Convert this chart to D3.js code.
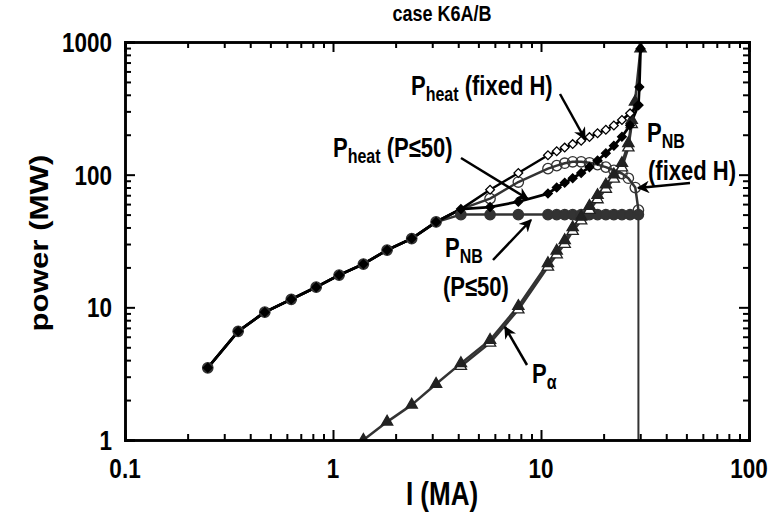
<!DOCTYPE html>
<html>
<head>
<meta charset="utf-8">
<script src="https://cdn.jsdelivr.net/npm/d3@7"></script>
<style>
  body { margin: 0; background: #fff; }
  text { font-family: "Liberation Sans", Arial, sans-serif; font-weight: bold; fill: #000; }
</style>
</head>
<body>
<div id="myChart"></div>
<script>
// data (I in MA, P in MW)
const I_low = [0.25, 0.35, 0.47, 0.63, 0.83, 1.07, 1.4, 1.82, 2.39, 3.13, 4.12];
const P_low = [3.5, 6.6, 9.2, 11.5, 14.2, 17.5, 21.2, 27, 33, 44, 55];
const I_mid = [5.69, 7.78];
const I_dense = [10.8, 11.9, 13.0, 14.2, 15.6, 17.1, 18.7, 20.5, 22.4, 24.5, 26.8, 29.4];

const heatFixedH = [77, 103, 140, 150, 160, 170, 180, 192, 205, 218, 235, 258, 290, 335];
const heatP50 = [57, 62.5, 72, 80, 87, 94, 103, 114, 128, 145, 165, 193, 236, 334];
const heatP50_endI = [29.7, 30.1];
const heatP50_end = [457, 890];
const nbFixedH_I = [5.69, 7.78, 10.8, 11.9, 13.0, 14.2, 15.6, 17.1, 18.7, 20.5, 22.4, 24.5, 26.3, 28.4, 29.4];
const nbFixedH_P = [66, 88, 111, 117, 122, 125, 125, 123, 119, 114, 108, 102, 94, 80, 54];
const nbP50 = [50, 50, 50, 50, 50, 50, 50, 50, 50, 50, 50, 50, 50, 50, 50];

const alpha_I = [1.07, 1.4, 1.82, 2.39, 3.13, 4.12, 5.69, 7.78, 10.8, 11.9, 13.0, 14.2, 15.6, 17.1, 18.7, 20.5, 22.4, 24.5, 26.3, 27.3, 28.3, 30.1];
const alpha_P = [0.75, 1.0, 1.37, 1.84, 2.64, 3.78, 5.67, 10.2, 21.5, 26.7, 32, 40, 48, 58, 70, 84, 100, 122, 172, 258, 354, 890];
const alphaH_I = [4.12, 5.69, 7.78, 10.8, 11.9, 13.0, 14.2, 15.6, 17.1, 18.7, 20.5, 22.4, 24.5, 26.3, 27.3];
const alphaH_P = [3.6, 5.4, 9.6, 20.2, 25, 30, 37.5, 45, 54, 65, 78, 93, 113, 160, 240];

const xTickLabels = ["0.1", "1", "10", "100"];
const yTickLabels = ["1", "10", "100", "1000"];

// set the dimensions and margins of the graph
const margin = { top: 42, right: 27, bottom: 77, left: 125 };
const width = 776 - margin.left - margin.right;
const height = 517 - margin.top - margin.bottom;
const K = 1.25; // the lettering in the figure is stretched vertically

const root = d3.select("#myChart")
  .append("svg")
  .attr("width", 776)
  .attr("height", 517);
const svg = root.append("g")
  .attr("transform", `translate(${margin.left}, ${margin.top})`);

const x = d3.scaleLog().domain([0.1, 100]).range([0, width]);
const y = d3.scaleLog().domain([1, 1000]).range([height, 0]);

svg.append("clipPath").attr("id", "plotClip")
  .append("rect").attr("width", width).attr("height", height);

// build point lists
function pts(xs, ys) { return xs.map((v, i) => ({ I: v, P: ys[i] })); }
const gridI = I_low.concat(I_mid, I_dense);
const sHeatH = pts(gridI, P_low.concat(heatFixedH));
const sHeat50 = pts(gridI.concat(heatP50_endI), P_low.concat(heatP50, heatP50_end));
const sNbH = pts(I_low.concat(nbFixedH_I), P_low.concat(nbFixedH_P));
const sNb50 = pts(I_low.slice(0, -1).concat([4.12], I_mid, I_dense), P_low.slice(0, -1).concat(nbP50));
const sAlpha = pts(alpha_I, alpha_P);
const sAlphaH = pts(alphaH_I, alphaH_P);

const line = d3.line().x(d => x(d.I)).y(d => y(d.P));
const plot = svg.append("g").attr("clip-path", "url(#plotClip)");

// vertical drop of the NB curves at the end
plot.append("path")
  .datum([{ I: 29.4, P: 54 }, { I: 29.4, P: 0.5 }])
  .attr("d", line).attr("fill", "none").attr("stroke", "#333").attr("stroke-width", 2);

const grey = "#333";
const lines = [
  { data: sAlphaH, color: grey, w: 2.5 },
  { data: sAlpha, color: grey, w: 2.5 },
  { data: sNb50, color: grey, w: 2.5 },
  { data: sNbH, color: grey, w: 2.5 },
  { data: sHeatH, color: "#000", w: 2.5 },
  { data: sHeat50, color: "#000", w: 2.8 }
];
lines.forEach(s => {
  plot.append("path").datum(s.data).attr("d", line)
    .attr("fill", "none").attr("stroke", s.color).attr("stroke-width", s.w)
    .attr("stroke-linejoin", "round");
});

// markers
function markers(data, type, size, fill, stroke, rot) {
  plot.append("g").selectAll("path").data(data).join("path")
    .attr("d", d3.symbol().type(type).size(size))
    .attr("transform", d => `translate(${x(d.I)},${y(d.P)}) rotate(${rot})`)
    .attr("fill", fill).attr("stroke", stroke).attr("stroke-width", 1.3);
}
markers(sNb50, d3.symbolCircle, 85, "#333", "#333", 0);
markers(sNbH.slice(I_low.length), d3.symbolCircle, 85, "none", "#333", 0);
markers(sAlphaH, d3.symbolTriangle, 55, "#fff", "#222", 0);
markers(sAlpha, d3.symbolTriangle, 55, "#222", "#222", 0);
markers(sHeatH.slice(I_low.length), d3.symbolSquare, 38, "#fff", "#000", 45);
markers(sHeat50, d3.symbolSquare, 38, "#000", "#000", 45);

// axes: inward ticks on all four sides
const xMajor = [0.1, 1, 10, 100];
const yMajor = [1, 10, 100, 1000];
const xMinor = x.ticks().filter(v => xMajor.indexOf(v) < 0);
const yMinor = y.ticks().filter(v => yMajor.indexOf(v) < 0);

function axisPair(axisFn, scale, major, minor, transform) {
  const g1 = svg.append("g").attr("transform", transform)
    .call(axisFn(scale).tickValues(major).tickSize(-10).tickFormat(""));
  const g2 = svg.append("g").attr("transform", transform)
    .call(axisFn(scale).tickValues(minor).tickSize(-6).tickFormat(""));
  [g1, g2].forEach(g => {
    g.selectAll("line").attr("stroke", "#000").attr("stroke-width", 2);
    g.select(".domain").attr("stroke", "#000").attr("stroke-width", 2.5);
  });
}
axisPair(d3.axisBottom, x, xMajor, xMinor, `translate(0,${height})`);
axisPair(d3.axisTop, x, xMajor, xMinor, "translate(0,0)");
axisPair(d3.axisLeft, y, yMajor, yMinor, "translate(0,0)");
axisPair(d3.axisRight, y, yMajor, yMinor, `translate(${width},0)`);

// text helper, page pixel coordinates, stretched vertically
function txt(px, py, size, anchor, extra) {
  return root.append("text")
    .attr("transform", `translate(${px},${py}) scale(1,${K})` + (extra || ""))
    .attr("text-anchor", anchor || "start")
    .style("font-size", size + "px");
}

// tick labels
xMajor.forEach((v, i) => {
  txt(margin.left + x(v), 478, 22.5, "middle").text(xTickLabels[i]);
});
yMajor.forEach((v, i) => {
  txt(112, margin.top + y(v) + 10, 22.5, "end").text(yTickLabels[i]);
});

// titles
txt(442, 21, 18, "middle").text("case  K6A/B");
txt(442, 505, 26, "middle").text("I (MA)");
txt(48, 243, 25, "middle", " rotate(-90)").text("power  (MW)");

// annotations
function label(px, py, main, sub, rest) {
  const t = txt(px, py, 22);
  t.append("tspan").text(main);
  t.append("tspan").attr("dy", 5).style("font-size", "16px").text(sub);
  if (rest) t.append("tspan").attr("dy", -5).text(" " + rest);
  return t;
}
label(411, 95, "P", "heat", "(fixed H)");
label(333, 157, "P", "heat", "(P\u226450)");
label(647, 142, "P", "NB", null);
txt(648, 180, 22).text("(fixed H)");
label(445, 257, "P", "NB", null);
txt(443, 296, 22).text("(P\u226450)");
label(532, 383, "P", "\u03b1", null);

// arrows
root.append("defs").append("marker")
  .attr("id", "arrowHead").attr("viewBox", "0 0 10 10")
  .attr("refX", 9).attr("refY", 5)
  .attr("markerWidth", 5).attr("markerHeight", 5)
  .attr("orient", "auto")
  .append("path").attr("d", "M0,0 L10,5 L0,10 L3,5 Z").attr("fill", "#000");

const arrows = [
  [560, 94, 585, 139],
  [461, 158, 528, 199],
  [690, 183, 638, 188],
  [493, 260, 531, 220],
  [527, 365, 505, 327]
];
root.append("g").selectAll("line").data(arrows).join("line")
  .attr("x1", d => d[0]).attr("y1", d => d[1])
  .attr("x2", d => d[2]).attr("y2", d => d[3])
  .attr("stroke", "#000").attr("stroke-width", 2.5)
  .attr("marker-end", "url(#arrowHead)");
</script>
</body>
</html>
